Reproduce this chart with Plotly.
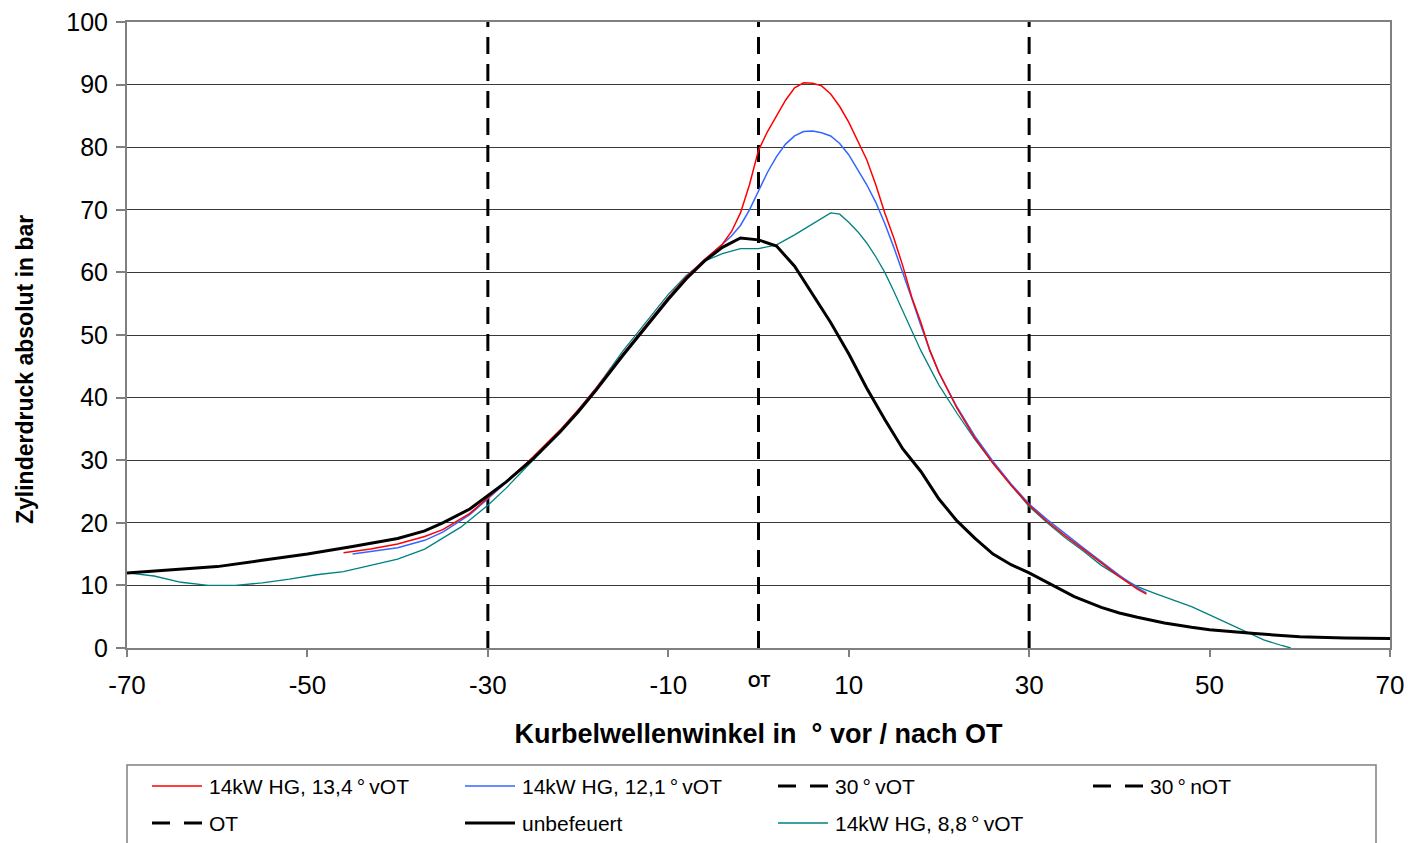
import plotly.graph_objects as go

# ---------------- data ----------------
x_unbef = [-70, -65, -60, -55, -50, -45, -40, -37, -35, -32, -30, -28, -25, -22, -20, -18, -15, -12, -10, -8,
           -6, -4, -2, 0, 2, 4, 6, 8, 10, 12, 14, 16, 18, 20, 22, 24, 26, 28, 30, 33, 35, 38, 40, 42, 45,
           48, 50, 55, 60, 65, 70]
y_unbef = [12, 12.5, 13, 14, 15, 16.2, 17.5, 18.7, 20, 22.2, 24.3, 26.5, 30.2, 34.5, 37.7, 41.2, 46.8, 52.2, 55.7, 59,
           61.8, 64, 65.5, 65.2, 64.2, 61, 56.5, 52, 47, 41.5, 36.5, 31.8, 28.2, 23.8, 20.3, 17.5, 15, 13.3, 12, 9.7, 8.2, 6.5, 5.6, 4.9, 4,
           3.3, 2.9, 2.3, 1.8, 1.6, 1.5]

x_134 = [-46, -43, -40, -37, -35, -32, -30, -28, -25, -22, -20, -18, -15, -12, -10, -8, -6, -4, -3, -2, -1, 0, 1, 2, 3,
         4, 5, 6, 7, 8, 9, 10, 11, 12, 13, 14, 15, 16, 17, 18, 19, 20, 22, 24, 26, 28, 30, 32, 34, 36, 38, 40, 42, 43]
y_134 = [15.2, 15.8, 16.6, 17.8, 18.9, 21.5, 24, 26.5, 30.5, 34.8, 38, 41.5, 47, 52.5, 56, 59.3, 62, 64.5, 66.5, 69.5, 74, 79.5, 82.5, 85, 87.5,
         89.5, 90.3, 90.2, 89.8, 88.5, 86.5, 84, 81, 78, 74, 69.5, 65.5, 61, 56, 52, 47.5, 44, 38.3, 33.5, 29.5, 26, 22.8, 20.2, 17.9, 15.8, 13.6, 11.4, 9.4, 8.6]

x_121 = [-45, -43, -40, -37, -35, -32, -30, -28, -25, -22, -20, -18, -15, -12, -10, -8, -6, -4, -3, -2, -1, 0, 1, 2, 3,
         4, 5, 6, 7, 8, 9, 10, 11, 12, 13, 14, 15, 16, 17, 18, 19, 20, 22, 24, 26, 28, 30, 32, 34, 36, 38, 40, 42, 43]
y_121 = [15, 15.4, 16, 17.2, 18.5, 21.3, 23.8, 26.4, 30.4, 34.7, 38, 41.5, 47, 52.5, 56, 59.3, 62, 64.5, 65.8, 67.5, 70, 73, 76, 78.5, 80.5,
         81.8, 82.5, 82.6, 82.3, 81.8, 80.6, 78.8, 76.5, 74, 71.2, 67.8, 64, 60, 55.8, 51.5, 47.5, 44, 38.5, 33.8, 29.8, 26.2, 23, 20.5, 18.2, 16, 13.8, 11.6, 9.6, 8.8]

x_88 = [-70, -67, -64, -61, -58, -55, -52, -49, -46, -43, -40, -37, -35, -33, -30, -28, -25, -22, -20, -18, -15, -12, -10, -8,
        -6, -4, -2, 0, 2, 4, 6, 8, 9, 10, 11, 12, 13, 14, 15, 16, 17, 18, 20, 22, 24, 26, 28, 30, 32, 34, 36, 38, 40,
        42, 44, 46, 48, 50, 52, 54, 56, 58, 59]
y_88 = [12, 11.5, 10.5, 10, 10, 10.4, 11, 11.7, 12.2, 13.2, 14.2, 15.8, 17.5, 19.3, 22.8, 25.5, 30, 34.5, 38, 41.5, 47.5, 53, 56.5, 59.5,
        61.8, 63, 63.8, 63.8, 64.4, 66, 67.8, 69.5, 69.3, 68, 66.5, 64.7, 62.5, 60, 57, 53.8, 50.5, 47.5, 42, 37.5, 33.3, 29.5, 26, 22.6, 20, 17.6, 15.5, 13.2, 11.4,
        9.8, 8.7, 7.7, 6.6, 5.3, 4, 2.6, 1.3, 0.4, 0]

marker_angles = [-30, 30, 0]
marker_names = ["30°vOT", "30°nOT", "OT"]

x_ticks = [-70, -50, -30, -10, 10, 30, 50, 70]
y_ticks = [0, 10, 20, 30, 40, 50, 60, 70, 80, 90, 100]

FONT = "Liberation Sans, Arial, sans-serif"

# ---------------- figure ----------------
W, H = 1408, 843
L, R, T, B = 127, 18, 22, 195
PW, PH = W - L - R, H - T - B


def px(xp):
    return (xp - L) / PW


def py(yp):
    return (H - B - yp) / PH


fig = go.Figure()

for ang, nm in zip(marker_angles, marker_names):
    fig.add_trace(go.Scatter(x=[ang, ang], y=[0, 100], mode="lines", name=nm,
                             line=dict(color="black", width=3, dash="17px,10px"), showlegend=False))

fig.add_trace(go.Scatter(x=x_88, y=y_88, mode="lines", name="14kW HG, 8,8°vOT",
                         line=dict(color="#008080", width=1.3), showlegend=False))
fig.add_trace(go.Scatter(x=x_121, y=y_121, mode="lines", name="14kW HG, 12,1°vOT",
                         line=dict(color="#3366ff", width=1.5), showlegend=False))
fig.add_trace(go.Scatter(x=x_134, y=y_134, mode="lines", name="14kW HG, 13,4°vOT",
                         line=dict(color="#ff0000", width=1.5), showlegend=False))
fig.add_trace(go.Scatter(x=x_unbef, y=y_unbef, mode="lines", name="unbefeuert",
                         line=dict(color="black", width=3), showlegend=False))

# manual legend
legend_items = [
    ("14kW HG, 13,4\u2009°\u2009vOT", "#ff0000", "solid", 1.5, 0, 0),
    ("14kW HG, 12,1\u2009°\u2009vOT", "#3366ff", "solid", 1.5, 1, 0),
    ("30\u2009°\u2009vOT", "black", "dash", 3, 2, 0),
    ("30\u2009°\u2009nOT", "black", "dash", 3, 3, 0),
    ("OT", "black", "dash", 3, 0, 1),
    ("unbefeuert", "black", "solid", 3, 1, 1),
    ("14kW HG, 8,8\u2009°\u2009vOT", "#008080", "solid", 1.5, 2, 1),
]
col_x = [152, 465, 778, 1093]
row_y = [786, 823]
shapes = []
annotations = []
shapes.append(dict(type="rect", xref="paper", yref="paper", x0=px(127), x1=px(1376), y0=py(765), y1=py(860),
                   line=dict(color="#808080", width=1.5), fillcolor="rgba(0,0,0,0)", layer="above"))
for text, col, style, wdt, c, r in legend_items:
    x0 = col_x[c]
    yv = py(row_y[r])
    if style == "solid":
        shapes.append(dict(type="line", xref="paper", yref="paper", x0=px(x0), x1=px(x0 + 50), y0=yv, y1=yv,
                           line=dict(color=col, width=wdt)))
    else:
        for s0 in (x0, x0 + 32):
            shapes.append(dict(type="line", xref="paper", yref="paper", x0=px(s0), x1=px(s0 + 18), y0=yv, y1=yv,
                               line=dict(color=col, width=wdt)))
    annotations.append(dict(text=text, xref="paper", yref="paper", x=px(x0 + 55), y=yv, xanchor="left",
                            yanchor="middle", showarrow=False, font=dict(family=FONT, size=21, color="black")))

annotations.append(dict(text="<b>OT</b>", xref="x", yref="paper", x=0, y=py(681), xanchor="center", yanchor="middle",
                        showarrow=False, font=dict(family=FONT, size=16, color="black")))
annotations.append(dict(text="<b>Zylinderdruck absolut in bar</b>", xref="paper", yref="paper", x=px(25), y=py(370),
                        xanchor="center", yanchor="middle", textangle=-90, showarrow=False,
                        font=dict(family=FONT, size=23, color="black")))

fig.update_layout(
    width=W, height=H,
    margin=dict(l=L, r=R, t=T, b=B, autoexpand=False),
    paper_bgcolor="white", plot_bgcolor="white",
    font=dict(family=FONT, color="black"),
    showlegend=False,
    shapes=shapes, annotations=annotations,
)
fig.update_xaxes(range=[-70, 70], tickvals=x_ticks, ticktext=[str(v) for v in x_ticks], automargin=False,
                 showgrid=False, zeroline=False, showline=True, linecolor="#808080", linewidth=2,
                 mirror=True, ticks="outside", ticklen=7, tickcolor="#808080", tickwidth=1.5,
                 tickfont=dict(family=FONT, size=26, color="black"), ticklabelstandoff=6,
                 title=dict(text="<b>Kurbelwellenwinkel in  ° vor / nach OT</b>", standoff=25,
                            font=dict(family=FONT, size=27, color="black")))
fig.update_yaxes(range=[0, 100], tickvals=y_ticks, showgrid=True, gridcolor="#3a3a3a", gridwidth=1,
                 zeroline=False, showline=True, linecolor="#808080", linewidth=2, mirror=True, automargin=False,
                 ticks="outside", ticklen=9, tickcolor="#808080", tickwidth=1.5,
                 tickfont=dict(family=FONT, size=25, color="black"), ticklabelstandoff=3)

fig.write_html("out.html")
